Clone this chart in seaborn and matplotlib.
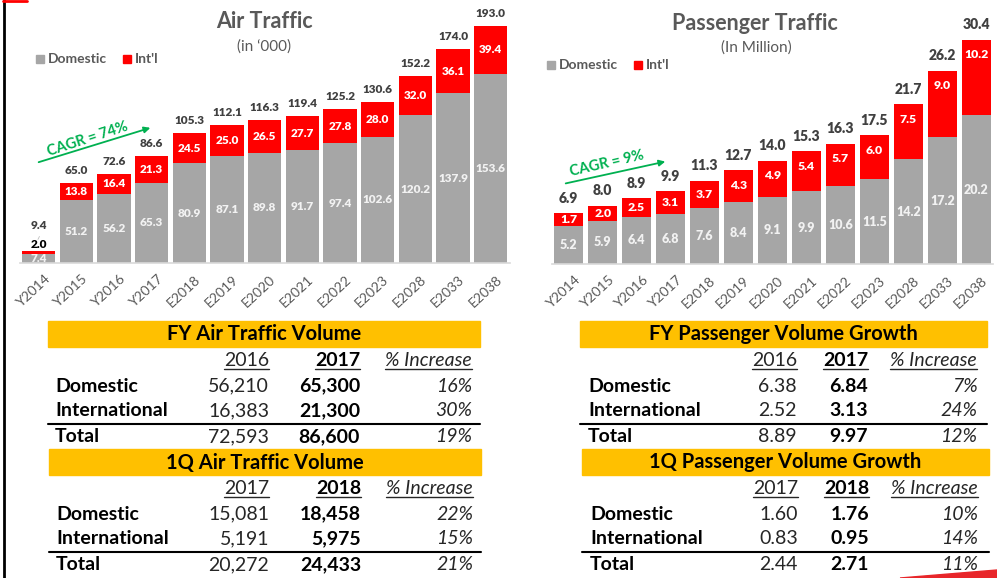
import matplotlib
matplotlib.use("Agg")
import matplotlib.pyplot as plt
import seaborn as sns
import pandas as pd
from matplotlib.patches import Rectangle, Polygon, FancyArrowPatch
from matplotlib.lines import Line2D

sns.set_theme(style="white")
plt.rcParams['font.family'] = ['Lato', 'DejaVu Sans']

# ---------------- data ----------------
years = ["Y2014", "Y2015", "Y2016", "Y2017", "E2018", "E2019", "E2020",
         "E2021", "E2022", "E2023", "E2028", "E2033", "E2038"]
air_dom = [7.4, 51.2, 56.2, 65.3, 80.9, 87.1, 89.8, 91.7, 97.4, 102.6, 120.2, 137.9, 153.6]
air_intl = [2.0, 13.8, 16.4, 21.3, 24.5, 25.0, 26.5, 27.7, 27.8, 28.0, 32.0, 36.1, 39.4]
air_total = [9.4, 65.0, 72.6, 86.6, 105.3, 112.1, 116.3, 119.4, 125.2, 130.6, 152.2, 174.0, 193.0]
pax_dom = [5.2, 5.9, 6.4, 6.8, 7.6, 8.4, 9.1, 9.9, 10.6, 11.5, 14.2, 17.2, 20.2]
pax_intl = [1.7, 2.0, 2.5, 3.1, 3.7, 4.3, 4.9, 5.4, 5.7, 6.0, 7.5, 9.0, 10.2]
pax_total = [6.9, 8.0, 8.9, 9.9, 11.3, 12.7, 14.0, 15.3, 16.3, 17.5, 21.7, 26.2, 30.4]

air_title = "Air Traffic"
air_sub = "(in \u2018000)"
pax_title = "Passenger Traffic"
pax_sub = "(In Million)"
air_cagr = "CAGR = 74%"
pax_cagr = "CAGR = 9%"

row_labels = ["Domestic", "International", "Total"]
air_fy_title = "FY Air Traffic Volume"
air_fy_cols = ["2016", "2017", "% Increase"]
air_fy_prev = ["56,210", "16,383", "72,593"]
air_fy_curr = ["65,300", "21,300", "86,600"]
air_fy_pct = ["16%", "30%", "19%"]
air_q_title = "1Q Air Traffic Volume"
air_q_cols = ["2017", "2018", "% Increase"]
air_q_prev = ["15,081", "5,191", "20,272"]
air_q_curr = ["18,458", "5,975", "24,433"]
air_q_pct = ["22%", "15%", "21%"]
pax_fy_title = "FY Passenger Volume Growth"
pax_fy_cols = ["2016", "2017", "% Increase"]
pax_fy_prev = ["6.38", "2.52", "8.89"]
pax_fy_curr = ["6.84", "3.13", "9.97"]
pax_fy_pct = ["7%", "24%", "12%"]
pax_q_title = "1Q Passenger Volume Growth"
pax_q_cols = ["2017", "2018", "% Increase"]
pax_q_prev = ["1.60", "0.83", "2.44"]
pax_q_curr = ["1.76", "0.95", "2.71"]
pax_q_pct = ["10%", "14%", "11%"]

GRAY = "#A6A6A6"
RED = "#FF0000"
DARK = "#404040"
TITLE = "#595959"
GREEN = "#00B050"
YELLOW = "#FFC000"
LBLW = "heavy"

W, H = 997, 578
fig = plt.figure(figsize=(W / 100, H / 100), dpi=100)


def fx(x):
    return x / W


def fy(y):
    return 1 - y / H


def make_axes(x0, x1, base_y):
    ax = fig.add_axes([fx(x0), fy(base_y), (x1 - x0) / W, base_y / H])
    ax.patch.set_alpha(0)
    return ax


def draw_chart(ax, dom, intl, total, x0, x1, c0, step, base_y, ppu, width,
               fs_tot, fs_in, fs_dom, tot_off, inside_end):
    df = pd.DataFrame({"year": years, "stack": [d + i for d, i in zip(dom, intl)], "dom": dom})
    sns.barplot(data=df, x="year", y="stack", color=RED, saturation=1, width=width,
                errorbar=None, ax=ax, edgecolor="none")
    sns.barplot(data=df, x="year", y="dom", color=GRAY, saturation=1, width=width,
                errorbar=None, ax=ax, edgecolor="none")
    left = -(c0 - x0) / step
    right = (len(years) - 1) + (x1 - (c0 + step * (len(years) - 1))) / step
    ax.set_xlim(left, right)
    ax.set_ylim(0, base_y / ppu)
    ax.set_xlabel("")
    ax.set_ylabel("")
    ax.set_xticks([])
    ax.set_yticks([])
    for s in ["top", "right", "left"]:
        ax.spines[s].set_visible(False)
    ax.spines["bottom"].set_color("#D9D9D9")
    ax.spines["bottom"].set_linewidth(1.2)
    for i, (d, n, t) in enumerate(zip(dom, intl, total)):
        top = d + n
        seg_px = n * ppu
        if seg_px < 10:
            ax.annotate(f"{n:.1f}", xy=(i, top), xytext=(0, 7), textcoords="offset pixels",
                        ha="center", va="center", fontsize=fs_in, fontweight=LBLW, color="black")
            ax.annotate(f"{t:.1f}", xy=(i, top), xytext=(0, 26), textcoords="offset pixels",
                        ha="center", va="center", fontsize=fs_tot, fontweight=LBLW, color=DARK)
            ax.plot([i - 0.02, i + 0.02], [top + 12 / ppu, top + 15 / ppu], color="#BFBFBF", lw=0.6)
        else:
            yc = d + n / 2
            if inside_end:
                yc = max(yc, top - 15 / ppu)
            ax.text(i, yc, f"{n:.1f}", ha="center", va="center", fontsize=fs_in,
                    fontweight=LBLW, color="white")
            ax.annotate(f"{t:.1f}", xy=(i, top), xytext=(0, tot_off), textcoords="offset pixels",
                        ha="center", va="center", fontsize=fs_tot, fontweight=LBLW, color=DARK)
        ax.text(i, d / 2, f"{d:.1f}", ha="center", va="center", fontsize=fs_dom,
                fontweight=LBLW, color="#F2F2F2", clip_on=True)
        ax.annotate(years[i], xy=(i, 0), xycoords=("data", "axes fraction"), xytext=(5, -10),
                    textcoords="offset pixels", ha="right", va="top", rotation=43,
                    rotation_mode="anchor", fontsize=10, color=TITLE, annotation_clip=False)


# Left chart
axL = make_axes(20, 510, 263)
draw_chart(axL, air_dom, air_intl, air_total, 20, 510, 38.7, 37.67, 263, 1.23, 0.885,
           8.5, 8.5, 8.5, 12.5, False)
# Right chart
axR = make_axes(552, 993, 264)
draw_chart(axR, pax_dom, pax_intl, pax_total, 552, 993, 568.7, 33.96, 264, 7.37, 0.86,
           10, 8.8, 9, 15, True)

# Titles
fig.text(fx(264), fy(22), air_title, ha="center", va="center", fontsize=15.5,
         fontweight="bold", color=TITLE)
fig.text(fx(264), fy(47), air_sub, ha="center", va="center", fontsize=11, color=TITLE)
fig.text(fx(755), fy(23), pax_title, ha="center", va="center", fontsize=15.5,
         fontweight="bold", color=TITLE)
fig.text(fx(756), fy(48), pax_sub, ha="center", va="center", fontsize=11, color=TITLE)


# Legends
def legend(x, y):
    fig.patches.append(Rectangle((fx(x), fy(y + 4)), 8 / W, 8 / H, color=GRAY,
                                 transform=fig.transFigure))
    fig.text(fx(x + 12), fy(y), "Domestic", ha="left", va="center", fontsize=10,
             fontweight="bold", color=TITLE)
    fig.patches.append(Rectangle((fx(x + 87), fy(y + 4)), 8 / W, 8 / H, color=RED,
                                 transform=fig.transFigure))
    fig.text(fx(x + 99), fy(y), "Int'l", ha="left", va="center", fontsize=10,
             fontweight="bold", color=TITLE)


legend(36, 59)
legend(547, 65)


# CAGR arrows
def cagr(x0, y0, x1, y1, tx, ty, rot, txt):
    fig.patches.append(FancyArrowPatch((fx(x0), fy(y0)), (fx(x1), fy(y1)),
                                       transform=fig.transFigure, arrowstyle="-|>",
                                       mutation_scale=9, color=GREEN, lw=1.3))
    fig.text(fx(tx), fy(ty), txt, ha="center", va="center", rotation=rot, fontsize=10.5,
             fontweight="bold", color=GREEN)


cagr(36, 163, 153, 127, 88, 139, 18, air_cagr)
cagr(563, 184, 668, 161, 607, 164, 13, pax_cagr)

# Tables
underline_jobs = []
FS = 14


def table(x0, x1, lab_x, cols_r, top, title, cols, prev, curr, pct):
    fig.patches.append(Rectangle((fx(x0), fy(top + 26)), (x1 - x0) / W, 26 / H,
                                 color=YELLOW, transform=fig.transFigure))
    fig.text(fx((x0 + x1) / 2), fy(top + 13.5), title, ha="center", va="center",
             fontsize=14.5, fontweight="bold", color="black")
    hy = top + 40
    t1 = fig.text(fx(cols_r[0]), fy(hy), cols[0], ha="right", va="center", fontsize=FS,
                  color="#262626")
    t2 = fig.text(fx(cols_r[1]), fy(hy), cols[1], ha="right", va="center", fontsize=FS,
                  fontweight="bold", color="black")
    t3 = fig.text(fx(cols_r[2]), fy(hy), cols[2], ha="right", va="center", fontsize=FS,
                  style="italic", color="#262626")
    underline_jobs.extend([t1, t2, t3])
    ys = [top + 65, top + 90, top + 116]
    for lab, p, c, q, y in zip(row_labels, prev, curr, pct, ys):
        fig.text(fx(lab_x), fy(y), lab, ha="left", va="center", fontsize=FS,
                 fontweight="bold", color="black")
        fig.text(fx(cols_r[0]), fy(y), p, ha="right", va="center", fontsize=FS, color="#262626")
        fig.text(fx(cols_r[1]), fy(y), c, ha="right", va="center", fontsize=FS,
                 fontweight="bold", color="black")
        fig.text(fx(cols_r[2] + 0.5), fy(y), q, ha="right", va="center", fontsize=FS,
                 style="italic", color="#262626")
    fig.lines.append(Line2D([fx(x0), fx(x1)], [fy(top + 103), fy(top + 103)], color="black",
                            lw=1.5, transform=fig.transFigure))


table(48, 480, 55, [269, 360, 472], 321, air_fy_title, air_fy_cols, air_fy_prev,
      air_fy_curr, air_fy_pct)
table(49, 481, 56, [269, 361, 473], 449, air_q_title, air_q_cols, air_q_prev,
      air_q_curr, air_q_pct)
table(580, 987, 588, [797, 868, 977], 321, pax_fy_title, pax_fy_cols, pax_fy_prev,
      pax_fy_curr, pax_fy_pct)
table(582, 989, 590, [798, 869, 978], 449, pax_q_title, pax_q_cols, pax_q_prev,
      pax_q_curr, pax_q_pct)

# decorations
fig.lines.append(Line2D([fx(3.5), fx(3.5)], [0, 1], color="black", lw=2,
                        transform=fig.transFigure))
fig.lines.append(Line2D([fx(3), fx(27)], [fy(1), fy(1)], color=RED, lw=2,
                        transform=fig.transFigure))
fig.patches.append(Polygon([(fx(900), 0), (fx(997), fy(570)), (fx(997), 0)], closed=True,
                           color="#E8262A", transform=fig.transFigure))

# underline column headers
fig.canvas.draw()
r = fig.canvas.get_renderer()
for t in underline_jobs:
    bb = t.get_window_extent(r)
    yline = bb.y0 + 1
    fig.lines.append(Line2D([bb.x0 / W, bb.x1 / W], [yline / H, yline / H],
                            color="#262626", lw=1, transform=fig.transFigure))

fig.savefig("out.png", dpi=100)
